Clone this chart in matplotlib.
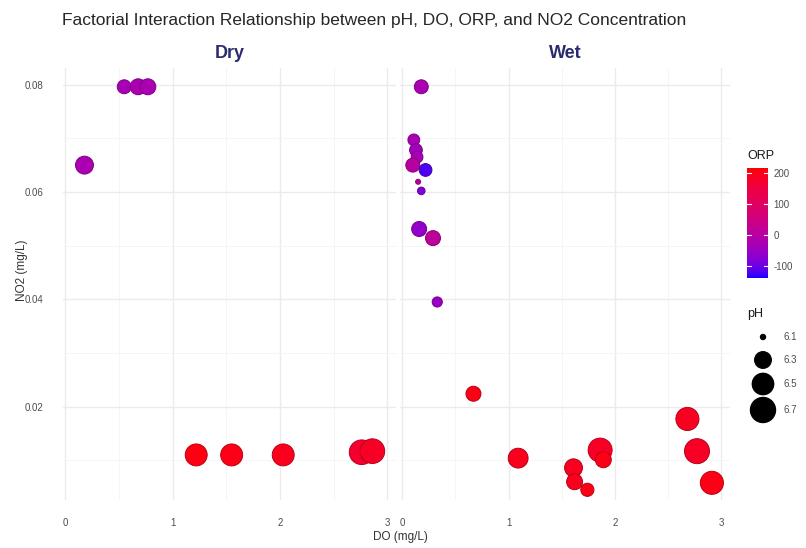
import numpy as np
import matplotlib
matplotlib.use("Agg")
import matplotlib.pyplot as plt
from matplotlib.colors import ListedColormap, Normalize
from matplotlib.ticker import MultipleLocator

plt.rcParams['font.family'] = ['Liberation Sans', 'DejaVu Sans']
plt.rcParams['axes.unicode_minus'] = False

# values
dry_do = [0.55, 0.68, 0.77, 0.18, 1.22, 1.55, 2.03, 2.76, 2.86]
dry_no2 = [0.0796, 0.0796, 0.0796, 0.0650, 0.0110, 0.0110, 0.0110, 0.0115, 0.0117]
dry_ph = [6.22, 6.28, 6.28, 6.35, 6.53, 6.53, 6.53, 6.68, 6.68]
dry_orp = [-30, -25, -25, -25, 205, 200, 195, 175, 185]

wet_do = [0.18, 0.11, 0.13, 0.14, 0.10, 0.22, 0.15, 0.18, 0.16, 0.29, 0.33,
          0.67, 1.09, 1.61, 1.62, 1.74, 1.86, 1.89, 2.68, 2.77, 2.91]
wet_no2 = [0.0796, 0.0697, 0.0678, 0.0665, 0.0650, 0.0641, 0.0619, 0.0602, 0.0531, 0.0514, 0.0395,
           0.0224, 0.0104, 0.0086, 0.0060, 0.0045, 0.0119, 0.0101, 0.0177, 0.0117, 0.0058]
wet_ph = [6.22, 6.17, 6.19, 6.17, 6.22, 6.19, 6.10, 6.11, 6.25, 6.25, 6.14,
          6.25, 6.43, 6.35, 6.28, 6.20, 6.64, 6.28, 6.59, 6.70, 6.59]
wet_orp = [-25, -30, -40, -30, 0, -120, 10, -80, -60, 10, -50,
           200, 195, 190, 195, 200, 185, 200, 190, 185, 200]

panels = ["Dry", "Wet"]
ph_breaks = [6.1, 6.3, 6.5, 6.7]
orp_breaks = [-100, 0, 100, 200]


# blue -> red gradient interpolated in Lab, like ggplot
def srgb_to_lab(c):
    c = np.asarray(c, float)
    lin = np.where(c <= 0.04045, c / 12.92, ((c + 0.055) / 1.055) ** 2.4)
    M = np.array([[0.4124, 0.3576, 0.1805], [0.2126, 0.7152, 0.0722], [0.0193, 0.1192, 0.9505]])
    xyz = M @ lin / np.array([0.95047, 1.0, 1.08883])
    f = np.where(xyz > 0.008856, np.cbrt(xyz), 7.787 * xyz + 16 / 116)
    return np.array([116 * f[1] - 16, 500 * (f[0] - f[1]), 200 * (f[1] - f[2])])


def lab_to_srgb(lab):
    L, a, b = lab
    fy = (L + 16) / 116
    f = np.array([fy + a / 500, fy, fy - b / 200])
    xyz = np.where(f ** 3 > 0.008856, f ** 3, (f - 16 / 116) / 7.787) * np.array([0.95047, 1.0, 1.08883])
    Mi = np.array([[3.2406, -1.5372, -0.4986], [-0.9689, 1.8758, 0.0415], [0.0557, -0.2040, 1.0570]])
    lin = Mi @ xyz
    c = np.where(lin <= 0.0031308, 12.92 * lin, 1.055 * np.abs(lin) ** (1 / 2.4) - 0.055)
    return np.clip(c, 0, 1)


lo = srgb_to_lab([0, 0, 1])
hi = srgb_to_lab([1, 0, 0])
cmap = ListedColormap([lab_to_srgb(lo + t * (hi - lo)) for t in np.linspace(0, 1, 256)])
norm = Normalize(-140, 215)


def ph_size(ph):
    d = 5 + 20 * np.sqrt(np.clip((np.asarray(ph) - 6.1) / 0.6, 0, None))
    return (d * 0.72) ** 2


fig = plt.figure(figsize=(8.06, 5.48), dpi=100)
W, H = 806, 548
boxes = [(63, 396), (400, 730)]
top, bot = 68, 500
data = [(dry_do, dry_no2, dry_ph, dry_orp), (wet_do, wet_no2, wet_ph, wet_orp)]

for i, (name, (x0, x1), d) in enumerate(zip(panels, boxes, data)):
    ax = fig.add_axes([x0 / W, 1 - bot / H, (x1 - x0) / W, (bot - top) / H])
    do, no2, ph, orp = d
    cols = cmap(norm(orp))
    ax.scatter(do, no2, s=ph_size(ph), c=cols, edgecolors=cols[:, :3] * 0.75,
               linewidths=0.7, zorder=3)
    ax.set_xlim(-0.02, 3.08)
    ax.set_ylim(0.0026, 0.0831)
    ax.xaxis.set_major_locator(MultipleLocator(1))
    ax.xaxis.set_minor_locator(MultipleLocator(0.5))
    ax.yaxis.set_major_locator(MultipleLocator(0.02))
    ax.yaxis.set_minor_locator(MultipleLocator(0.01))
    ax.grid(which='major', color='#ebebeb', linewidth=1.0)
    ax.grid(which='minor', color='#f4f4f4', linewidth=0.6)
    ax.set_axisbelow(True)
    for sp in ax.spines.values():
        sp.set_visible(False)
    ax.tick_params(which='both', length=0, labelsize=7, colors='#4d4d4d')
    ax.tick_params(axis='x', pad=13)
    ax.tick_params(axis='y', pad=14)
    ax.xaxis.set_major_formatter(plt.FuncFormatter(lambda v, p: "%d" % v))
    if i == 0:
        ax.yaxis.set_major_formatter(plt.FuncFormatter(lambda v, p: "%.2f" % v))
    else:
        ax.set_yticklabels([])
    ax.set_title(name, fontsize=13, fontweight='bold', color='#2b2b6e', pad=7)

fig.text(62 / W, 1 - 20 / H, "Factorial Interaction Relationship between pH, DO, ORP, and NO2 Concentration",
         fontsize=12.5, color='#262626', ha='left', va='center')
fig.text(400 / W, 1 - 537 / H, "DO (mg/L)", fontsize=8.5, color='#333333', ha='center', va='center')
fig.text(22 / W, 1 - 270 / H, "NO2 (mg/L)", fontsize=8.5, color='#333333', ha='center', va='center',
         rotation=90)

# ORP colourbar
cax = fig.add_axes([747 / W, 1 - 278 / H, 21 / W, 110 / H])
cb = fig.colorbar(plt.cm.ScalarMappable(norm=norm, cmap=cmap), cax=cax, ticks=orp_breaks)
cb.outline.set_visible(False)
cax.tick_params(length=0, labelsize=7, colors='#4d4d4d', pad=4)
for v in orp_breaks:
    cax.axhline(v, xmin=0, xmax=0.2, color='white', linewidth=0.8)
    cax.axhline(v, xmin=0.8, xmax=1, color='white', linewidth=0.8)
fig.text(747 / W, 1 - 156 / H, "ORP", fontsize=9, color='#1a1a1a', ha='left', va='center')

# pH size legend
fig.text(747 / W, 1 - 314 / H, "pH", fontsize=9, color='#1a1a1a', ha='left', va='center')
lax = fig.add_axes([748 / W, 1 - 424 / H, 30 / W, 100 / H])
ypos = [337, 360, 384, 410]
lax.scatter([0] * 4, ypos, s=ph_size(ph_breaks), c='black')
lax.set_xlim(-1, 1)
lax.set_ylim(424, 324)
lax.axis('off')
for yy, v in zip(ypos, ph_breaks):
    fig.text(783 / W, 1 - yy / H, "%.1f" % v, fontsize=7, color='#4d4d4d', ha='left', va='center')

fig.savefig("out.png", dpi=100)
